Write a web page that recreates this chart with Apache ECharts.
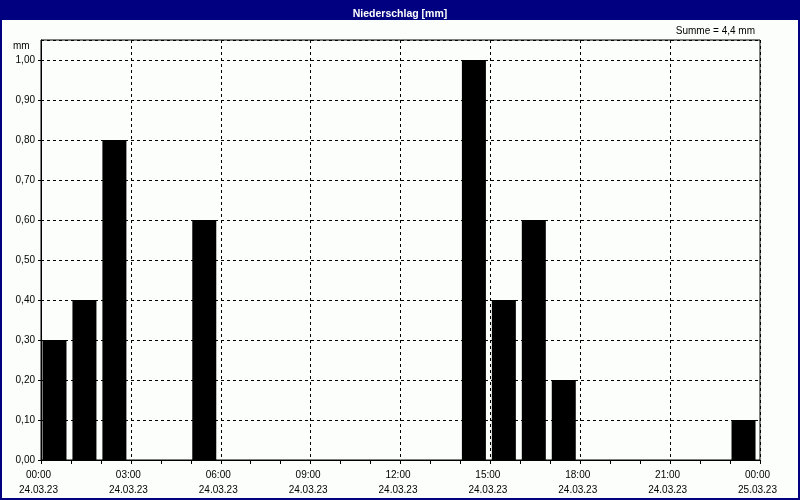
<!DOCTYPE html>
<html>
<head>
<meta charset="utf-8">
<script src="https://cdn.jsdelivr.net/npm/echarts@6/dist/echarts.min.js"></script>
<style>
html, body { margin: 0; padding: 0; background: #000080; }
#chart { width: 800px; height: 500px; }
</style>
</head>
<body>
<div id="chart"></div>
<script>
// Niederschlag pro Stunde, 24.03.23 00:00 bis 25.03.23 00:00
var hours = [0, 1, 2, 3, 4, 5, 6, 7, 8, 9, 10, 11, 12, 13, 14, 15, 16, 17, 18, 19, 20, 21, 22, 23];
var precip = [0.3, 0.4, 0.8, 0, 0, 0.6, 0, 0, 0, 0, 0, 0, 0, 0, 1.0, 0.4, 0.6, 0.2, 0, 0, 0, 0, 0, 0.1];
var tickTimes = ['00:00', '03:00', '06:00', '09:00', '12:00', '15:00', '18:00', '21:00', '00:00'];
var tickDates = ['24.03.23', '24.03.23', '24.03.23', '24.03.23', '24.03.23', '24.03.23', '24.03.23', '24.03.23', '25.03.23'];

var font = 'Liberation Sans, Arial, sans-serif';
var summe = precip.reduce(function (a, b) { return a + b; }, 0);

var chart = echarts.init(document.getElementById('chart'));
var option = {
  backgroundColor: '#000080',
  animation: false,
  textStyle: { fontFamily: font },
  title: {
    text: 'Niederschlag [mm]',
    left: 'center',
    top: 4,
    textStyle: { color: '#fff', fontSize: 10.5, fontWeight: 'bold', fontFamily: font }
  },
  graphic: [
    { type: 'rect', z: -10, shape: { x: 2, y: 20, width: 796, height: 478 }, style: { fill: '#fcfefc' } },
    { type: 'text', left: 13, top: 41, style: { text: 'mm', fontSize: 10, fontFamily: font, fill: '#000' } },
    { type: 'text', right: 45, top: 26, style: { text: 'Summe = ' + summe.toFixed(1).replace('.', ',') + ' mm', fontSize: 10, fontFamily: font, fill: '#000' } }
  ],
  grid: {
    left: 41, right: 40, top: 40, bottom: 40,
    show: true, borderColor: '#000', borderWidth: 1, backgroundColor: 'transparent'
  },
  xAxis: {
    type: 'value',
    min: 0, max: 24, interval: 3,
    axisLine: { lineStyle: { color: '#000', width: 1 } },
    axisTick: { show: true, length: 4, lineStyle: { color: '#000' } },
    minorTick: { show: true, splitNumber: 3, length: 4, lineStyle: { color: '#000' } },
    splitLine: { show: true, lineStyle: { color: '#000', type: [3, 3], width: 1 } },
    axisLabel: {
      color: '#000', fontSize: 10, lineHeight: 15, margin: 8,
      padding: [0, 5, 0, 0],
      formatter: function (v) {
        var i = Math.round(v / 3);
        return tickTimes[i] + '\n' + tickDates[i];
      }
    }
  },
  yAxis: {
    type: 'value',
    min: 0, max: 1.05, interval: 0.1,
    axisLine: { show: true, lineStyle: { color: '#000', width: 1 } },
    axisTick: { show: true, length: 3, lineStyle: { color: '#000' } },
    splitLine: { show: true, lineStyle: { color: '#000', type: [3, 3], width: 1 } },
    axisLabel: {
      color: '#000', fontSize: 10, margin: 6, showMaxLabel: false,
      formatter: function (v) {
        if (Math.abs(v * 10 - Math.round(v * 10)) > 1e-6) return '';
        return v.toFixed(2).replace('.', ',');
      }
    }
  },
  series: [{
    type: 'bar',
    barWidth: 24,
    itemStyle: { color: '#000' },
    data: hours.map(function (h, i) { return [h + 0.45, precip[i]]; })
  }]
};
chart.setOption(option);
</script>
</body>
</html>
